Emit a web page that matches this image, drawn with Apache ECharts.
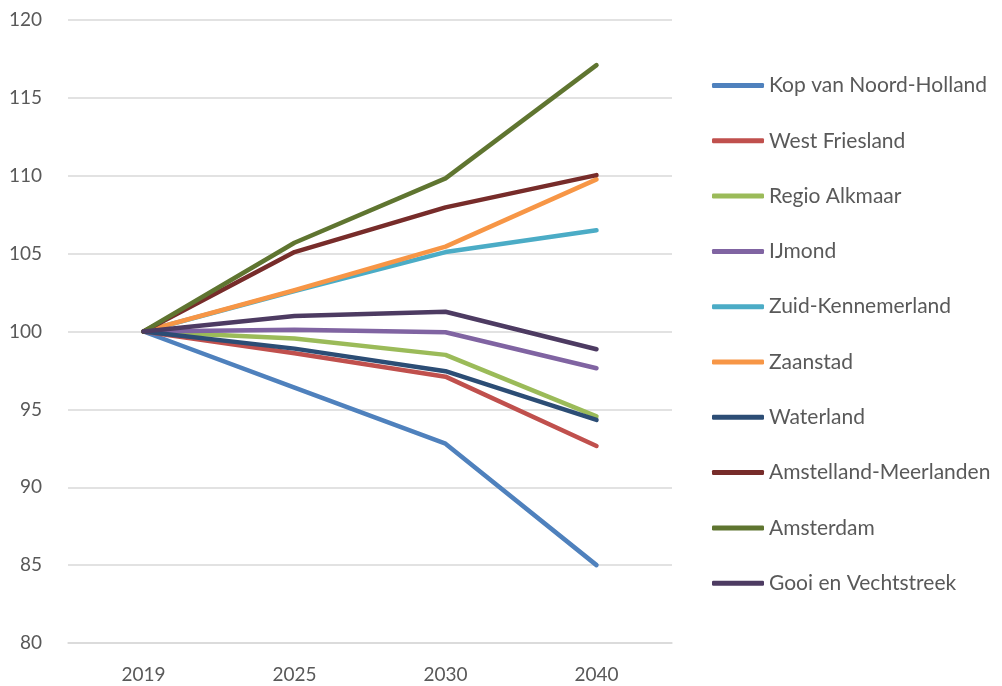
<!DOCTYPE html>
<html>
<head>
<meta charset="utf-8">
<script src="https://cdn.jsdelivr.net/npm/echarts@6/dist/echarts.min.js"></script>
<style>
  html, body { margin: 0; padding: 0; background: #fff; }
  #chart { width: 1002px; height: 686px; }
</style>
</head>
<body>
<div id="chart"></div>
<script>
const years = ['2019', '2025', '2030', '2040']

const kopVanNoordHolland = [100, 96.4, 92.8, 85.0]
const westFriesland = [100, 98.6, 97.1, 92.65]
const regioAlkmaar = [100, 99.55, 98.5, 94.55]
const ijmond = [100, 100.12, 99.95, 97.64]
const zuidKennemerland = [100, 102.6, 105.1, 106.5]
const zaanstad = [100, 102.65, 105.45, 109.77]
const waterland = [100, 98.9, 97.45, 94.32]
const amstellandMeerlanden = [100, 105.1, 107.97, 110.04]
const amsterdam = [100, 105.7, 109.83, 117.1]
const gooiEnVechtstreek = [100, 101.0, 101.27, 98.86]

const seriesInfo = [
  { name: 'Kop van Noord-Holland', color: '#4f81bd', values: kopVanNoordHolland },
  { name: 'West Friesland', color: '#c0504d', values: westFriesland },
  { name: 'Regio Alkmaar', color: '#9bbb59', values: regioAlkmaar },
  { name: 'IJmond', color: '#8064a2', values: ijmond },
  { name: 'Zuid-Kennemerland', color: '#4bacc6', values: zuidKennemerland },
  { name: 'Zaanstad', color: '#f79646', values: zaanstad },
  { name: 'Waterland', color: '#2c4d75', values: waterland },
  { name: 'Amstelland-Meerlanden', color: '#772c2a', values: amstellandMeerlanden },
  { name: 'Amsterdam', color: '#5f7530', values: amsterdam },
  { name: 'Gooi en Vechtstreek', color: '#4d3b62', values: gooiEnVechtstreek }
]

const chart = echarts.init(document.getElementById('chart'))

const series = seriesInfo.map(e => ({
  type: 'line',
  name: e.name,
  data: e.values,
  color: e.color,
  symbol: 'none',
  smooth: false,
  lineStyle: { width: 4.5, color: e.color, cap: 'round', join: 'round' }
}))

chart.setOption({
  animation: false,
  textStyle: { fontFamily: 'Lato', color: '#595959' },
  grid: { left: 68, right: 330, top: 20, bottom: 43 },
  legend: {
    orient: 'vertical',
    left: 707,
    top: 70,
    itemWidth: 52,
    itemHeight: 5,
    itemGap: 34.3,
    icon: 'roundRect',
    textStyle: { fontSize: 21, color: '#595959', fontFamily: 'Lato' },
    data: seriesInfo.map(e => e.name)
  },
  xAxis: {
    type: 'category',
    data: years,
    boundaryGap: true,
    axisTick: { show: false },
    axisLine: { show: true, lineStyle: { color: '#d9d9d9', width: 1.5 } },
    axisLabel: { fontSize: 19, color: '#595959', margin: 22 }
  },
  yAxis: {
    type: 'value',
    min: 80,
    max: 120,
    interval: 5,
    axisLine: { show: false },
    axisTick: { show: false },
    splitLine: { lineStyle: { color: '#d9d9d9', width: 1.5 } },
    axisLabel: { fontSize: 19, color: '#595959', margin: 26 }
  },
  series
})
</script>
</body>
</html>
